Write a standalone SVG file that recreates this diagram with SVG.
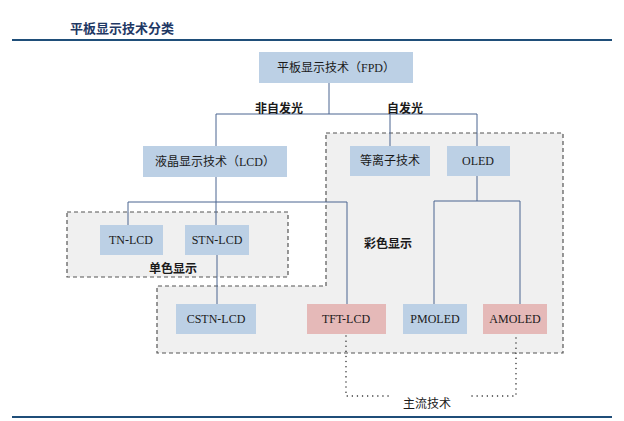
<svg xmlns="http://www.w3.org/2000/svg" width="624" height="421" viewBox="0 0 624 421">
<style>
.t{font-family:"Liberation Serif","Noto Sans CJK SC",serif;font-size:12px;fill:#1a1a1a;text-anchor:middle;dominant-baseline:central}
.lb{font-family:"Noto Sans CJK SC",sans-serif;font-size:12px;font-weight:bold;fill:#1a1a1a;text-anchor:middle;dominant-baseline:central}
.ln{font-family:"Noto Sans CJK SC",sans-serif;font-size:12px;fill:#1a1a1a;text-anchor:middle;dominant-baseline:central}
.b{fill:#BCD0E5}
.p{fill:#E5B9B8}
.c{fill:none;stroke:#4A6590;stroke-width:1}
.d{fill:#F0F0F0;stroke:#555;stroke-width:1.2;stroke-dasharray:4 3}
.dot{fill:none;stroke:#222;stroke-width:1.4;stroke-dasharray:0.1 5;stroke-linecap:round}
.rule{stroke:#1F4E79;stroke-width:2}
</style>
<g id="header">
<text x="70" y="27" style="font-family:'Noto Sans CJK SC',sans-serif;font-size:13px;font-weight:bold;fill:#1F3864;dominant-baseline:central">平板显示技术分类</text>
<line class="rule" x1="12" y1="40" x2="612" y2="40"/>
<line class="rule" x1="12" y1="417" x2="612" y2="417"/>
</g>
<g id="group-color">
<path class="d" d="M326,133 H563 V353 H157 V286 H326 Z"/>
<text class="lb" x="388" y="242">彩色显示</text>
</g>
<g id="group-mono">
<rect class="d" x="67" y="212" width="221" height="65"/>
<text class="lb" x="173" y="267">单色显示</text>
</g>
<g id="connectors">
<path class="c" d="M329,83 V114 M216,114 H477 M216,114 V146 M390,114 V146 M477,114 V146"/>
<path class="c" d="M216,177 V225 M128,202 H347 M128,202 V225 M347,202 V304"/>
<path class="c" d="M217,255 V304"/>
<path class="c" d="M477,176 V201 M434,201 H520 M434,201 V304 M520,201 V304"/>
<path class="dot" d="M346,336 V396 H392"/>
<path class="dot" d="M472,396 H516 V336"/>
<text class="lb" x="279" y="107">非自发光</text>
<text class="lb" x="405" y="107">自发光</text>
<text class="ln" x="427" y="402">主流技术</text>
</g>
<g id="fpd"><rect class="b" x="259" y="52" width="154" height="31"/><text class="t" x="336" y="68">平板显示技术（FPD）</text></g>
<g id="lcd"><rect class="b" x="143" y="146" width="144" height="31"/><text class="t" x="215" y="162">液晶显示技术（LCD）</text></g>
<g id="plasma"><rect class="b" x="350" y="146" width="80" height="30"/><text class="t" x="390" y="161">等离子技术</text></g>
<g id="oled"><rect class="b" x="447" y="146" width="63" height="30"/><text class="t" x="478" y="161">OLED</text></g>
<g id="tn-lcd"><rect class="b" x="100" y="225" width="63" height="30"/><text class="t" x="131" y="240">TN-LCD</text></g>
<g id="stn-lcd"><rect class="b" x="185" y="225" width="64" height="30"/><text class="t" x="217" y="240">STN-LCD</text></g>
<g id="cstn-lcd"><rect class="b" x="176" y="304" width="80" height="30"/><text class="t" x="216" y="319">CSTN-LCD</text></g>
<g id="tft-lcd"><rect class="p" x="307" y="304" width="79" height="30"/><text class="t" x="346" y="319">TFT-LCD</text></g>
<g id="pmoled"><rect class="b" x="403" y="304" width="64" height="30"/><text class="t" x="435" y="319">PMOLED</text></g>
<g id="amoled"><rect class="p" x="483" y="304" width="64" height="30"/><text class="t" x="515" y="319">AMOLED</text></g>
</svg>
